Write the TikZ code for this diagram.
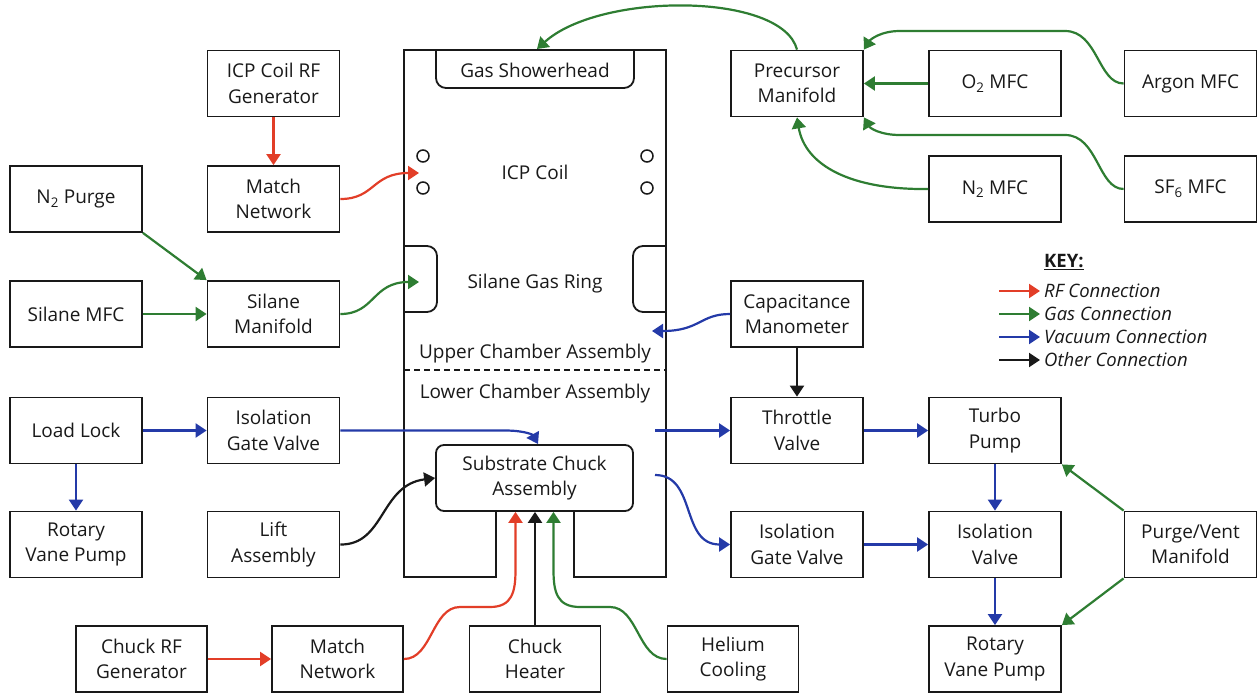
\documentclass[tikz,border=0pt]{standalone}
\usepackage{fontspec}
\setmainfont{Open Sans}
\usetikzlibrary{arrows.meta}
\definecolor{rfc}{RGB}{226,62,40}
\definecolor{gasc}{RGB}{46,125,50}
\definecolor{vacc}{RGB}{36,58,168}
\definecolor{ink}{RGB}{25,25,25}
\begin{document}
\begin{tikzpicture}[x=1pt,y=-1pt,
 box/.style={draw=ink, line width=1.8pt, minimum width=132pt, minimum height=66pt, inner sep=0pt, align=center, text=ink, font=\fontsize{19}{25.5}\selectfont},
 sbox/.style={box, minimum width=131pt},
 lbl/.style={text=ink, font=\fontsize{19}{25.5}\selectfont, inner sep=0pt, anchor=base},
 keyl/.style={anchor=west, text=ink, font=\fontsize{18.5}{20}\selectfont\itshape, inner sep=0pt},
 wall/.style={draw=ink, line width=1.8pt},
 conn/.style={line width=2.2pt, -{Triangle[length=11pt,width=14pt]}},
 rf/.style={conn, draw=rfc}, gas/.style={conn, draw=gasc}, vac/.style={conn, draw=vacc}, oth/.style={conn, draw=ink}]
\useasboundingbox (0,0) rectangle (1259,694);

% chamber
\draw[wall] (496,511) -- (496,577) -- (404,577) -- (404,50) -- (666,50) -- (666,577) -- (574,577) -- (574,511);
\draw[wall, rounded corners=10pt] (436,50) -- (436,88) -- (634,88) -- (634,50);
\draw[wall, rounded corners=10pt] (404,246) -- (437,246) -- (437,312) -- (404,312);
\draw[wall, rounded corners=10pt] (666,246) -- (633,246) -- (633,312) -- (666,312);
\draw[draw=ink, line width=1.5pt, dash pattern=on 6pt off 4pt] (404,370) -- (666,370);
\foreach \cx/\cy in {423/156, 423/188, 647/156, 647/188}
  \draw[draw=ink, line width=1.5pt] (\cx,\cy) circle (6pt);
\node[lbl] (shower) at (535,77) {Gas Showerhead};
\node[lbl] (coil) at (535,179) {ICP Coil};
\node[lbl] (ring) at (535,288) {Silane Gas Ring};
\node[lbl] (upper) at (535,358) {Upper Chamber Assembly};
\node[lbl] (lower) at (535,398) {Lower Chamber Assembly};
\node[box, rounded corners=8pt, minimum width=197pt] (chuck) at (534.5,478) {Substrate Chuck\\Assembly};

% boxes
\node[box] (icpgen) at (273.5,83.5) {ICP Coil RF\\Generator};
\node[box] (match1) at (273.5,199) {Match\\Network};
\node[box] (n2p) at (76,199) {N\textsubscript{2} Purge};
\node[box] (silmfc) at (76,314) {Silane MFC};
\node[box] (silman) at (273.5,314) {Silane\\Manifold};
\node[box] (ll) at (76,430.5) {Load Lock};
\node[box] (igv1) at (273.5,430.5) {Isolation\\Gate Valve};
\node[box] (rvp1) at (76,544.5) {Rotary\\Vane Pump};
\node[box] (lift) at (273.5,544.5) {Lift\\Assembly};
\node[sbox] (crf) at (141.5,659) {Chuck RF\\Generator};
\node[sbox] (match2) at (337.5,659) {Match\\Network};
\node[sbox] (heater) at (535,659) {Chuck\\Heater};
\node[sbox] (helium) at (733,659) {Helium\\Cooling};
\node[box] (prec) at (797,83.5) {Precursor\\Manifold};
\node[box] (o2) at (995,83.5) {O\textsubscript{2} MFC};
\node[box] (argon) at (1190.5,83.5) {Argon MFC};
\node[box] (n2mfc) at (995,189) {N\textsubscript{2} MFC};
\node[box] (sf6) at (1190.5,189) {SF\textsubscript{6} MFC};
\node[box] (cap) at (797,314) {Capacitance\\Manometer};
\node[box] (thr) at (797,430.5) {Throttle\\Valve};
\node[box] (turbo) at (995,430.5) {Turbo\\Pump};
\node[box] (igv2) at (797,544.5) {Isolation\\Gate Valve};
\node[box] (isov) at (995,544.5) {Isolation\\Valve};
\node[box] (purge) at (1190.5,544.5) {Purge/Vent\\Manifold};
\node[box] (rvp2) at (995,659) {Rotary\\Vane Pump};

% free ends inside the chamber
\coordinate (coilin) at (419,173);
\coordinate (ringin) at (419,282);
\coordinate (showtip) at (537,49);
\coordinate (capin) at (652,331);
\coordinate (vo1) at (655,430.5);
\coordinate (vo2) at (655,475);
\coordinate (chin) at (538,444);
\coordinate (chR) at ([xshift=-19pt]chuck.south);
\coordinate (chG) at ([xshift=19pt]chuck.south);

% RF
\draw[rf] (icpgen.south) -- (match1.north);
\draw[rf] (match1.east) .. controls (375,199) and (372,173) .. (coilin);
\draw[rf] (crf.east) -- (match2.west);
\draw[rf] (match2.east) .. controls (432,659) and (432,607) .. (460,607) -- (490,607) .. controls (512,607) and (515.5,592) .. (515.5,570) -- (chR);

% gas
\draw[gas] (n2p.south east) -- (silman.north west);
\draw[gas] (silmfc.east) -- (silman.west);
\draw[gas] (silman.east) .. controls (375,314) and (372,282) .. (ringin);
\draw[gas] (prec.north) .. controls (782,-8) and (600,-8) .. (showtip);
\draw[gas] (o2.west) -- (prec.east);
\draw[gas] (argon.west) .. controls (1098,83.5) and (1098,31) .. (1065,31) -- (900,31) .. controls (880,31) and (870,40) .. (prec.north east);
\draw[gas] (sf6.west) .. controls (1098,189) and (1098,135) .. (1065,135) -- (900,135) .. controls (880,135) and (870,128) .. (prec.south east);
\draw[gas] (n2mfc.west) .. controls (850,190) and (805,165) .. (prec.south);
\draw[gas] (purge.north west) -- (turbo.south east);
\draw[gas] (purge.south west) -- (rvp2.north east);
\draw[gas] (helium.west) .. controls (638,659) and (638,607) .. (610,607) -- (580,607) .. controls (557,607) and (553.5,592) .. (553.5,570) -- (chG);

% vacuum
\draw[vac] (ll.east) -- (igv1.west);
\draw[vac] (ll.south) -- (rvp1.north);
\draw[vac] (igv1.east) -- (505,430.5) .. controls (525,430.5) and (533,435) .. (chin);
\draw[vac] (cap.west) .. controls (700,314) and (700,331) .. (capin);
\draw[vac] (vo1) -- (thr.west);
\draw[vac] (thr.east) -- (turbo.west);
\draw[vac] (turbo.south) -- (isov.north);
\draw[vac] (vo2) .. controls (697,475) and (680,544.5) .. (igv2.west);
\draw[vac] (igv2.east) -- (isov.west);
\draw[vac] (isov.south) -- (rvp2.north);

% other
\draw[oth] (cap.south) -- (thr.north);
\draw[oth] (heater.north) -- (heater.north |- chuck.south);
\draw[oth] (lift.east) .. controls (385,545) and (380,485) .. (chuck.west);

% key
\node[anchor=west, text=ink, font=\fontsize{18.5}{20}\selectfont\bfseries, inner sep=0pt] (keyt) at (1044,262) {\underline{KEY:}};
\coordinate (ka1) at (999,291); \coordinate (kb1) at (1040,291);
\coordinate (ka2) at (999,314); \coordinate (kb2) at (1040,314);
\coordinate (ka3) at (999,337); \coordinate (kb3) at (1040,337);
\coordinate (ka4) at (999,360); \coordinate (kb4) at (1040,360);
\draw[rf] (ka1) -- (kb1);
\draw[gas] (ka2) -- (kb2);
\draw[vac] (ka3) -- (kb3);
\draw[oth] (ka4) -- (kb4);
\node[keyl] (kl1) at (1044,291) {RF Connection};
\node[keyl] (kl2) at (1044,314) {Gas Connection};
\node[keyl] (kl3) at (1044,337) {Vacuum Connection};
\node[keyl] (kl4) at (1044,360) {Other Connection};
\end{tikzpicture}
\end{document}
